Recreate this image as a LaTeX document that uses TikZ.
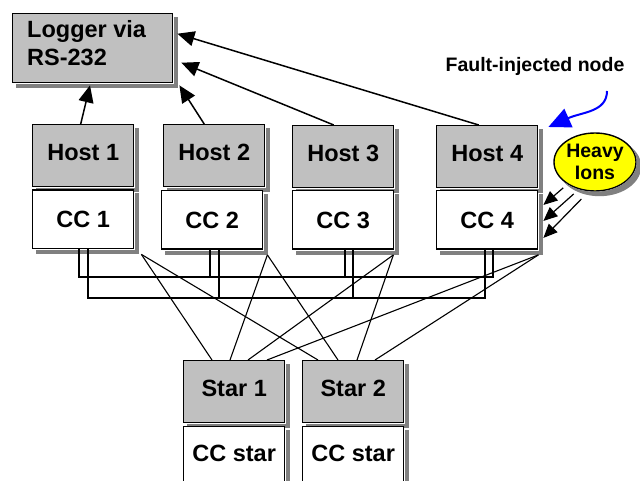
\documentclass[tikz,border=0pt]{standalone}
\usepackage{fontspec}
\setmainfont{Liberation Sans}
\usetikzlibrary{shapes.geometric,arrows.meta}
\definecolor{boxgray}{HTML}{C0C0C0}
\definecolor{shadowgray}{HTML}{808080}
\definecolor{ionyellow}{HTML}{FFFF00}
% gray L-shaped shadow along the right and bottom sides of a box node
\newcommand\castshadow[1]{%
  \fill[shadowgray] ([shift={(0.7pt,-4pt)}]#1.north east) rectangle ([shift={(5pt,-5pt)}]#1.south east);
  \fill[shadowgray] ([shift={(4pt,-0.7pt)}]#1.south west) rectangle ([shift={(5pt,-5pt)}]#1.south east);}
\begin{document}
\begin{tikzpicture}[x=1pt,y=-1pt,
  unit/.style={draw,line width=1.4pt,anchor=north west,minimum width=101pt,inner sep=0pt,
    font=\bfseries\fontsize{23.5}{26}\selectfont},
  hostbox/.style={unit,fill=boxgray,minimum height=62pt,text depth=6pt},
  ccbox/.style={unit,fill=white,minimum height=58.5pt},
  wire/.style={line width=1.1pt},
  tologger/.style={line width=1.5pt,-{Triangle[length=17pt,width=15pt]}},
  ionray/.style={line width=1.2pt,-{Triangle[length=14pt,width=12pt]}},
  faultarrow/.style={blue,line width=2pt,-{Triangle[length=22pt,width=20pt]}}]
\useasboundingbox (0,0) rectangle (640,481);

% logger
\node[unit,fill=boxgray,minimum width=160pt,minimum height=69pt] (logger) at (12,13) {};
\castshadow{logger}
\node[anchor=north west,inner sep=0pt,align=left,
  font=\bfseries\fontsize{23.5}{27.7}\selectfont] (loggertext) at (27,20.5) {Logger via\\RS-232};

% hosts and their communication controllers
\node[hostbox] (host1) at (32,124) {Host 1};
\node[hostbox] (host2) at (163,124) {Host 2};
\node[hostbox] (host3) at (292,125) {Host 3};
\node[hostbox] (host4) at (436,125) {Host 4};
\castshadow{host1}\castshadow{host2}\castshadow{host3}\castshadow{host4}
\node[ccbox] (cc1) at (32,189.5) {CC 1};
\node[ccbox] (cc2) at (161,190) {CC 2};
\node[ccbox] (cc3) at (292,190) {CC 3};
\node[ccbox] (cc4) at (436,190) {CC 4};
\castshadow{cc1}\castshadow{cc2}\castshadow{cc3}\castshadow{cc4}

% links to the logger
\draw[tologger] ([xshift=-2.5pt]host1.north) -- ([xshift=78pt,yshift=-2pt]logger.south west);
\draw[tologger] ([xshift=-10pt]host2.north) -- ([xshift=6pt,yshift=-2pt]logger.south east);
\draw[tologger] ([xshift=-9.5pt]host3.north) -- ([xshift=8pt,yshift=-14.5pt]logger.east);
\draw[tologger] ([xshift=-8.5pt]host4.north) -- ([xshift=4pt,yshift=14.5pt]logger.east);

% two buses
\coordinate (a1) at (79,277);  \coordinate (a2) at (210,277);
\coordinate (a3) at (345,277); \coordinate (a4) at (493,277);
\coordinate (b1) at (88,298);  \coordinate (b2) at (219,298);
\coordinate (b3) at (353,298); \coordinate (b4) at (485,298);
\draw[wire] (a1 |- cc1.south) -- (a1) -- (a4) -- (a4 |- cc4.south);
\draw[wire] (a2 |- cc2.south) -- (a2);
\draw[wire] (a3 |- cc3.south) -- (a3);
\draw[wire] (b1 |- cc1.south) -- (b1) -- (b4) -- (b4 |- cc4.south);
\draw[wire] (b2 |- cc2.south) -- (b2);
\draw[wire] (b3 |- cc3.south) -- (b3);

% star couplers
\node[hostbox] (star1) at (183,360) {Star 1};
\node[hostbox] (star2) at (302,360) {Star 2};
\castshadow{star1}\castshadow{star2}
\node[ccbox,minimum height=64pt,text depth=10pt] (ccs1) at (183,426) {CC star};
\node[ccbox,minimum height=64pt,text depth=10pt] (ccs2) at (302,426) {CC star};
\castshadow{ccs1}\castshadow{ccs2}

% star links
\draw[wire] ([xshift=7pt,yshift=-5pt]cc1.south east) -- ([xshift=29pt]star1.north west);
\draw[wire] ([xshift=7pt,yshift=-5pt]cc1.south east) -- ([xshift=16pt]star2.north west);
\draw[wire] ([xshift=4pt,yshift=-5pt]cc2.south east) -- ([xshift=47pt]star1.north west);
\draw[wire] ([xshift=4pt,yshift=-5pt]cc2.south east) -- ([xshift=36pt]star2.north west);
\draw[wire] ([xshift=-1pt,yshift=-5pt]cc3.south east) -- ([xshift=65pt]star1.north west);
\draw[wire] ([xshift=-1pt,yshift=-5pt]cc3.south east) -- ([xshift=55pt]star2.north west);
\draw[wire] ([yshift=-5pt]cc4.south east) -- ([xshift=84pt]star1.north west);
\draw[wire] ([yshift=-5pt]cc4.south east) -- ([xshift=73pt]star2.north west);

% heavy-ion source with its crescent-shaped shadow
\node[ellipse,draw,line width=1.4pt,fill=ionyellow,minimum width=82pt,minimum height=58pt,
  inner sep=0pt,align=center,font=\bfseries\fontsize{19.5}{22}\selectfont] (ions) at (595,162) {Heavy\\Ions};
\fill[shadowgray]
  plot[domain=-40.9:149.9,samples=48] ({599.5+41.7*cos(\x)},{166.5+29.7*sin(\x)})
  -- plot[domain=139.2:-30.2,samples=48] ({595+41.7*cos(\x)},{162+29.7*sin(\x)}) -- cycle;
\draw[ionray] ([shift={(-2pt,-5pt)}]ions.215) -- ([xshift=5pt,yshift=15pt]cc4.east);
\draw[ionray] ([shift={(-1pt,-6pt)}]ions.232) -- ([xshift=5pt,yshift=-1pt]cc4.east);
\draw[ionray] ([shift={(0pt,-9pt)}]ions.244) -- ([xshift=5pt,yshift=-18pt]cc4.east);

% fault injection marker
\node[anchor=base,inner sep=0pt,font=\bfseries\fontsize{19.5}{22}\selectfont] (faulttext) at (535,71.7) {Fault-injected node};
\coordinate (faultstart) at (607,91);
\draw[faultarrow] (faultstart) .. controls (607,112) and (582,112) .. ([xshift=10pt,yshift=-2pt]host4.north east);
\end{tikzpicture}
\end{document}
